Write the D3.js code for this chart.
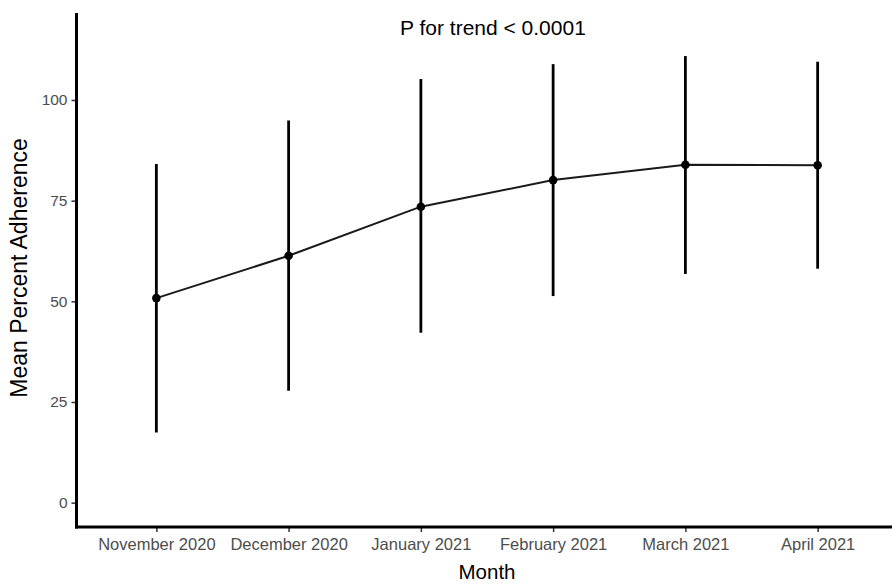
<!DOCTYPE html>
<html>
<head>
<meta charset="utf-8">
<script src="https://cdn.jsdelivr.net/npm/d3@7"></script>
<style>
  body { margin: 0; background: #fff; }
  svg { display: block; font-family: "Liberation Sans", Arial, sans-serif; }
</style>
</head>
<body>
<svg id="chart"></svg>
<script>
const months = ['November 2020', 'December 2020', 'January 2021', 'February 2021', 'March 2021', 'April 2021'];
const means = [50.8, 61.3, 73.5, 80.1, 83.9, 83.8];
const lower = [17.4, 27.8, 42.2, 51.3, 56.8, 58.1];
const upper = [84.1, 94.9, 105.2, 108.9, 110.9, 109.5];
const yTicks = [0, 25, 50, 75, 100];

const width = 892, height = 584;
const margin = { top: 13, right: -5, bottom: 57, left: 77 };

const data = months.map((m, i) => ({ month: m, mean: means[i], lo: lower[i], hi: upper[i] }));

const svg = d3.select('#chart')
  .attr('width', width)
  .attr('height', height);

const x = d3.scalePoint()
  .domain(months)
  .range([margin.left, width - margin.right])
  .padding(0.6);

const y = d3.scaleLinear()
  .domain([-6.05, 121.6])
  .range([height - margin.bottom, margin.top]);

// error bars
svg.selectAll('.err')
  .data(data)
  .enter().append('line')
  .attr('class', 'err')
  .attr('x1', d => x(d.month))
  .attr('x2', d => x(d.month))
  .attr('y1', d => y(d.lo))
  .attr('y2', d => y(d.hi))
  .attr('stroke', '#000')
  .attr('stroke-width', 2.8);

// mean line
svg.append('path')
  .datum(data)
  .attr('fill', 'none')
  .attr('stroke', '#1a1a1a')
  .attr('stroke-width', 2)
  .attr('d', d3.line().x(d => x(d.month)).y(d => y(d.mean)));

svg.selectAll('.pt')
  .data(data)
  .enter().append('circle')
  .attr('class', 'pt')
  .attr('cx', d => x(d.month))
  .attr('cy', d => y(d.mean))
  .attr('r', 4.3)
  .attr('fill', '#000');

// axes
const yAxis = d3.axisLeft(y).tickValues(yTicks).tickSize(5).tickPadding(4);
const gy = svg.append('g')
  .attr('transform', `translate(${margin.left - 0.5},0)`)
  .call(yAxis);
gy.select('.domain').remove();
gy.append('line')
  .attr('x1', 0).attr('x2', 0)
  .attr('y1', margin.top).attr('y2', height - margin.bottom + 1.5)
  .attr('stroke', '#000').attr('stroke-width', 3);
gy.selectAll('.tick line').attr('stroke', '#333').attr('stroke-width', 1.5);
gy.selectAll('.tick text').attr('fill', '#4d4d4d').style('font-size', '15.5px');

const xAxis = d3.axisBottom(x).tickSize(5).tickPadding(6);
const gx = svg.append('g')
  .attr('transform', `translate(0,${height - margin.bottom})`)
  .call(xAxis);
gx.select('.domain').remove();
gx.append('line')
  .attr('x1', margin.left - 2).attr('x2', width)
  .attr('y1', 0).attr('y2', 0)
  .attr('stroke', '#000').attr('stroke-width', 3);
gx.selectAll('.tick line').attr('stroke', '#333').attr('stroke-width', 1.5);
gx.selectAll('.tick text').attr('fill', '#4d4d4d').style('font-size', '16.5px');

// titles
svg.append('text')
  .attr('x', 487)
  .attr('y', 579)
  .attr('text-anchor', 'middle')
  .style('font-size', '20.5px')
  .attr('fill', '#000')
  .text('Month');

svg.append('text')
  .attr('transform', `translate(27,268) rotate(-90)`)
  .attr('text-anchor', 'middle')
  .style('font-size', '23px')
  .attr('fill', '#000')
  .text('Mean Percent Adherence');

svg.append('text')
  .attr('x', 400)
  .attr('y', 35)
  .style('font-size', '21px')
  .attr('fill', '#000')
  .text('P for trend < 0.0001');
</script>
</body>
</html>
